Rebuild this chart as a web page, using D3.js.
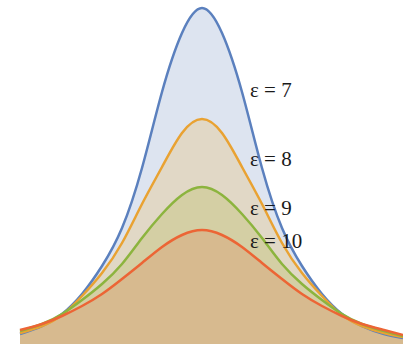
<!DOCTYPE html>
<html><head><meta charset="utf-8">
<script src="https://cdn.jsdelivr.net/npm/d3@7"></script>
<style>html,body{margin:0;padding:0;background:#fff;}svg{display:block;}</style>
</head><body>
<svg id="chart" width="403" height="344"></svg>
<script>
// x positions (arbitrary units, centre at 0)
const xs = [-4.55, -4, -3.5, -3, -2.5, -2, -1.5, -1, -0.5, 0, 0.5, 1, 1.5, 2, 2.5, 3, 3.5, 4, 4.55, 5.025];
// profiles
const eps7  = [0.10, 0.18, 0.30, 0.50, 0.78, 1.16, 1.76, 2.52, 3.11, 3.36, 3.11, 2.52, 1.76, 1.16, 0.78, 0.50, 0.30, 0.18, 0.10, 0.06];
const eps8  = [0.11, 0.18, 0.29, 0.48, 0.71, 1.01, 1.40, 1.77, 2.11, 2.25, 2.11, 1.77, 1.40, 1.01, 0.71, 0.48, 0.29, 0.18, 0.11, 0.07];
const eps9  = [0.13, 0.20, 0.30, 0.44, 0.60, 0.80, 1.06, 1.30, 1.49, 1.57, 1.49, 1.30, 1.06, 0.80, 0.60, 0.44, 0.30, 0.20, 0.13, 0.08];
const eps10 = [0.14, 0.20, 0.28, 0.38, 0.50, 0.65, 0.81, 0.97, 1.09, 1.14, 1.09, 0.97, 0.81, 0.65, 0.50, 0.38, 0.28, 0.20, 0.14, 0.09];
const labels = ["ε = 7", "ε = 8", "ε = 9", "ε = 10"];
const labelY = [2.47, 1.78, 1.29, 0.96];

const series = [
  {name: labels[0], values: eps7,  line: "#5b80be", fill: "#dde4f0"},
  {name: labels[1], values: eps8,  line: "#e9a232", fill: "#e1d8c6"},
  {name: labels[2], values: eps9,  line: "#8cb43e", fill: "#d4cfa4"},
  {name: labels[3], values: eps10, line: "#ec6535", fill: "#d7ba8f"}
];

const svg = d3.select("#chart");
const x = d3.scaleLinear().domain([-4.55, 5.025]).range([20, 403]);
const y = d3.scaleLinear().domain([0, 3.4]).range([344, 4]);

const curve = d3.curveNatural;
const area = d3.area().x((d, i) => x(xs[i])).y0(y(0)).y1(d => y(d)).curve(curve);
const line = d3.line().x((d, i) => x(xs[i])).y(d => y(d)).curve(curve);

series.forEach(s => {
  svg.append("path").attr("d", area(s.values)).attr("fill", s.fill);
});
series.forEach(s => {
  svg.append("path").attr("d", line(s.values)).attr("fill", "none")
    .attr("stroke", s.line).attr("stroke-width", 2.5);
});
series.forEach((s, i) => {
  svg.append("text").attr("x", x(1.2)).attr("y", y(labelY[i]))
    .attr("font-family", "Liberation Serif, Times New Roman, serif")
    .attr("font-size", 21).attr("fill", "#1a1a1a").text(s.name);
});
</script>
</body></html>
